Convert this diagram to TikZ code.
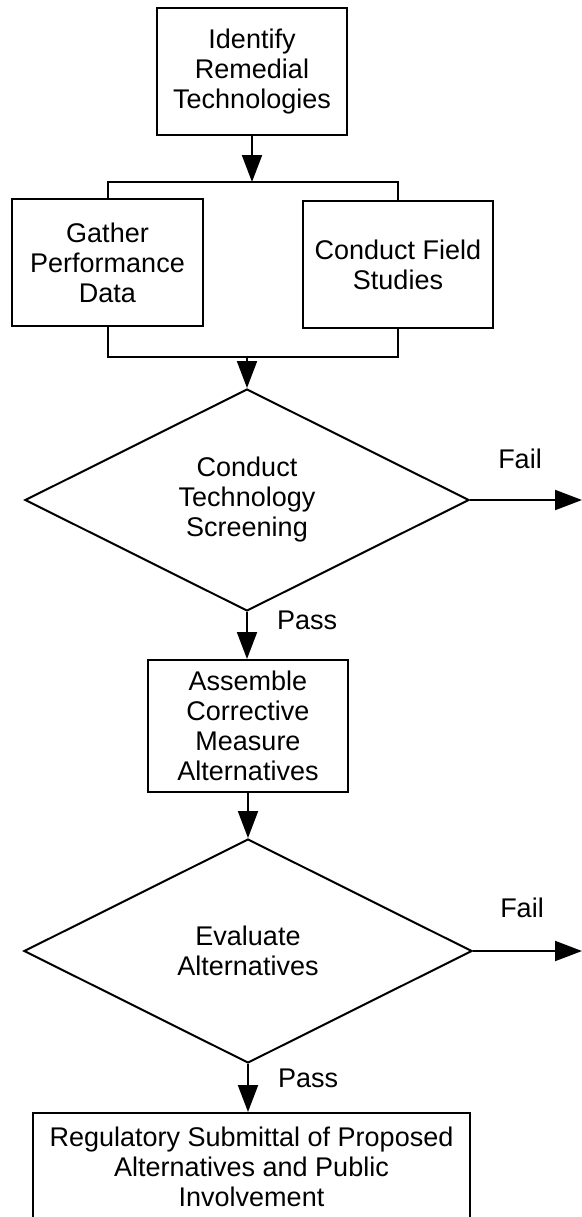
\documentclass[tikz,border=0pt]{standalone}
\usepackage{fontspec}
\setmainfont{Liberation Sans}
\usetikzlibrary{shapes.geometric,arrows.meta}
\begin{document}
\begin{tikzpicture}[x=0.5pt,y=-0.5pt,line width=1pt,
  font=\fontsize{13.5}{15}\selectfont,
  box/.style={draw,align=center,inner sep=0pt},
  test/.style={draw,diamond,align=center,inner sep=0pt},
  lbl/.style={inner sep=0pt},
  flow/.style={-{Triangle[length=13.5pt,width=10pt]}}]
\useasboundingbox (0,0) rectangle (582,1217);
\node[box,minimum width=95pt,minimum height=63.5pt] (ident) at (252,71.5) {Identify\\Remedial\\Technologies};
\node[box,minimum width=95.5pt,minimum height=63.5pt] (gather) at (107.5,262.5) {Gather\\Performance\\Data};
\node[box,minimum width=95pt,minimum height=63.5pt] (field) at (398,264.5) {Conduct Field\\Studies};
\node[test,minimum width=222pt,minimum height=111pt] (screen) at (247,500) {Conduct\\Technology\\Screening};
\node[box,minimum width=100pt,minimum height=66pt] (assemble) at (248,726) {Assemble\\Corrective\\Measure\\Alternatives};
\node[test,minimum width=224pt,minimum height=112pt] (evaluate) at (248,951) {Evaluate\\Alternatives};
\node[box,minimum width=218.5pt,minimum height=54pt] (submit) at (251.5,1167) {Regulatory Submittal of Proposed\\Alternatives and Public\\Involvement};
\node[lbl] (fail1) at (520,459) {Fail};
\node[lbl,anchor=west] (pass1) at (276,620) {Pass};
\node[lbl] (fail2) at (522,907.5) {Fail};
\node[lbl,anchor=west] (pass2) at (277,1078) {Pass};
\coordinate (bustop) at (252,182);
\coordinate (busbot) at (247,357);
\coordinate (failend1) at (582,500);
\coordinate (failend2) at (582,951);
\draw[flow] (ident) -- (bustop);
\draw (gather.north) -- (gather.north |- bustop) -- (field.north |- bustop) -- (field.north);
\draw (gather.south) -- (gather.south |- busbot) -- (field.south |- busbot) -- (field.south);
\draw[flow] (busbot) -- (screen.north);
\draw[flow] (screen.east) -- (failend1);
\draw[flow] (screen.south) -- (screen.south |- assemble.north);
\draw[flow] (assemble.south) -- (evaluate.north);
\draw[flow] (evaluate.east) -- (failend2);
\draw[flow] (evaluate.south) -- (evaluate.south |- submit.north);
\end{tikzpicture}
\end{document}
